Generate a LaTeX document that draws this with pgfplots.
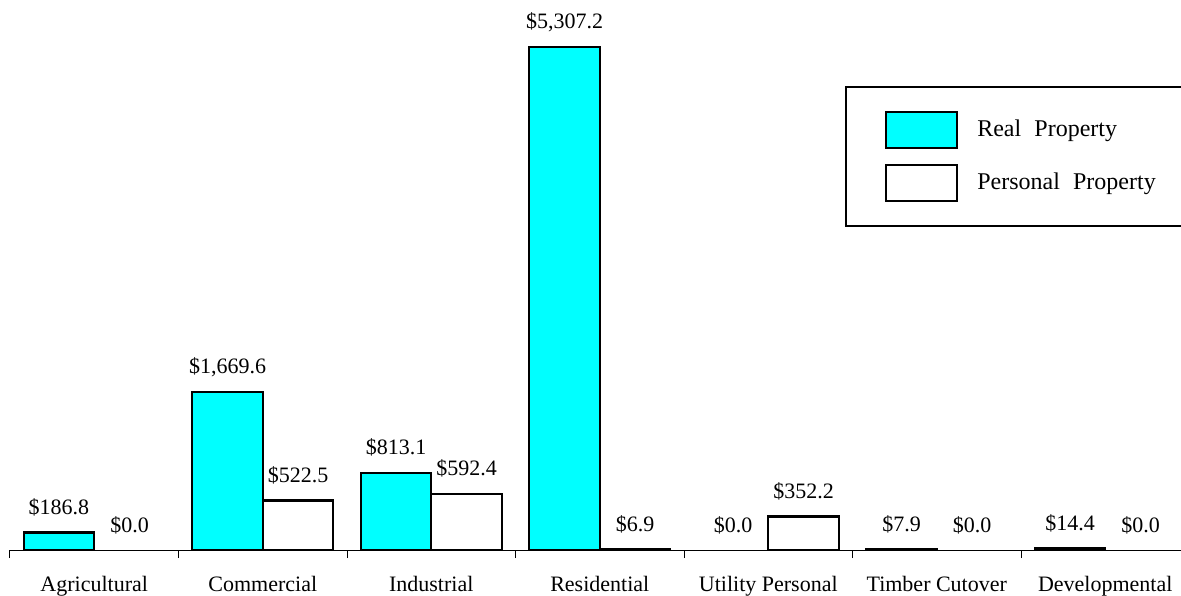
\documentclass[border=0pt]{standalone}
\usepackage{fontspec}
\setmainfont{Liberation Serif}
\usepackage{pgfplots}
\usepackage{pgfplotstable}
\pgfplotsset{compat=1.18}
\definecolor{realcyan}{RGB}{0,255,255}

% Assessed value by property class (dollars, millions)
\pgfplotstableread{
x real personal
0 186.8 0.0
1 1669.6 522.5
2 813.1 592.4
3 5307.2 6.9
4 0.0 352.2
5 7.9 0.0
6 14.4 0.0
}\propdata

\pgfplotsset{
  dollarlabel/.style={
    nodes near coords={\$\pgfmathprintnumber[fixed,fixed zerofill,precision=1,1000 sep={,},assume math mode=true]{\pgfplotspointmeta}},
    every node near coord/.append style={anchor=base, inner sep=0pt, yshift=9pt, black},
  },
}

\begin{document}
\fontsize{11pt}{13pt}\selectfont
\begin{tikzpicture}
\useasboundingbox (0,0) rectangle (590.5pt,297.5pt);
\begin{axis}[
  at={(5pt,22.5pt)}, anchor=south west,
  scale only axis, width=585.5pt, height=275pt,
  xmin=-0.5, xmax=6.4496, ymin=0, ymax=5803,
  axis x line*=bottom, axis y line=none,
  axis line style={line width=0.5pt, -},
  xtick={0,...,6},
  xticklabels={Agricultural, Commercial, Industrial, Residential, Utility Personal, Timber Cutover, Developmental},
  major tick length=0pt,
  major x tick style={draw=none},
  minor xtick={-0.5,0.5,...,5.5},
  minor tick length=4pt,
  minor x tick style={line width=0.5pt, black},
  tick align=outside,
  xticklabel style={anchor=base, yshift=-20.5pt, inner sep=0pt},
  ybar, bar width=0.4184,
  unbounded coords=discard,
  legend style={at={(axis description cs:0.7131,0.8436)}, anchor=north west,
    draw=black, line width=1pt, inner xsep=15.5pt, inner ysep=12pt,
    row sep=7.5pt, column sep=7.5pt, cells={anchor=west, inner sep=0pt},
    font=\fontsize{12pt}{14pt}\selectfont},
  legend image code/.code={\path (0pt,0pt); \draw[#1, line width=1pt] (4pt,-9pt) rectangle (39.5pt,9pt);},
  legend cell align=left,
]
\addplot[fill=realcyan, draw=black, line width=1.2pt, bar shift=-0.2092,
  y filter/.expression={y==0 ? nan : y}]
  table[x=x, y=real] {\propdata};
\addlegendentry{Real\hspace{0.3em} Property}
\addplot[fill=white, draw=black, line width=1.2pt, bar shift=0.2092,
  y filter/.expression={y==0 ? nan : y}]
  table[x=x, y=personal] {\propdata};
\addlegendentry{Personal\hspace{0.3em} Property}
% value labels
\addplot[draw=none, fill=none, bar shift=-0.2092, dollarlabel, forget plot]
  table[x=x, y=real] {\propdata};
\addplot[draw=none, fill=none, bar shift=0.2092, dollarlabel, forget plot]
  table[x=x, y=personal] {\propdata};
\end{axis}
\end{tikzpicture}
\end{document}
